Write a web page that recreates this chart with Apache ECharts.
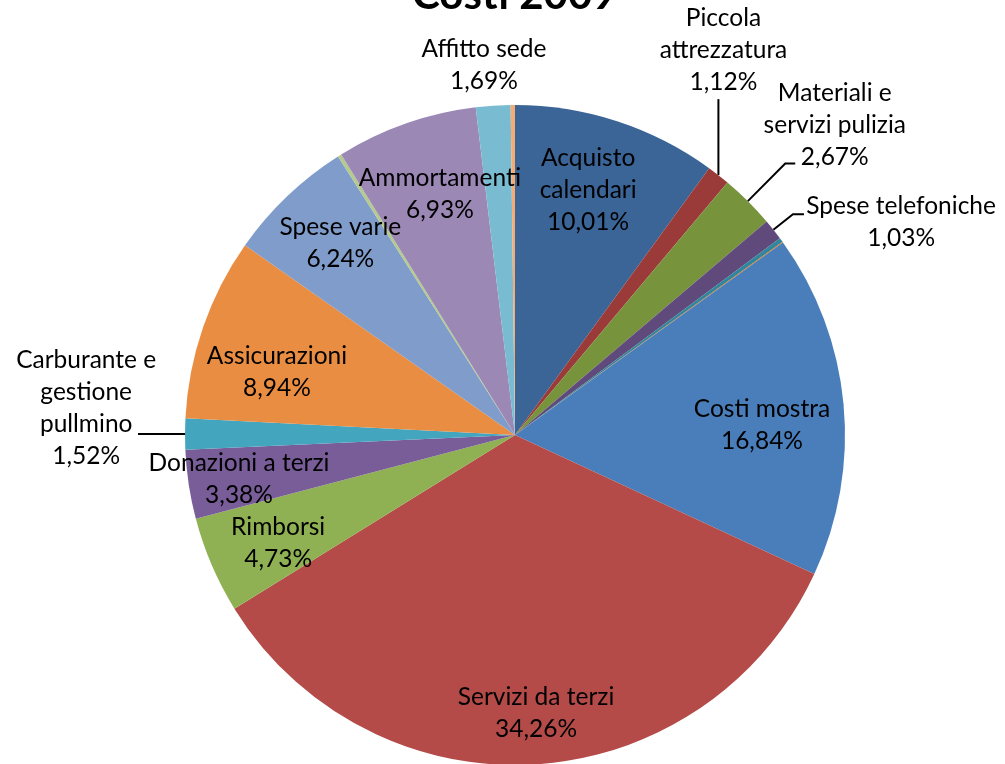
<!DOCTYPE html>
<html><head><meta charset="utf-8">
<script src="https://cdn.jsdelivr.net/npm/echarts@6/dist/echarts.min.js"></script>
<style>html,body{margin:0;padding:0;background:#fff}#chart{width:1005px;height:764px}</style>
</head><body><div id="chart"></div>
<script>
const chartTitle = 'Costi 2009';
const categories = ['Acquisto calendari','Piccola attrezzatura','Materiali e servizi pulizia','Spese telefoniche','','','Costi mostra','Servizi da terzi','Rimborsi','Donazioni a terzi','Carburante e gestione pullmino','Assicurazioni','Spese varie','','Ammortamenti','Affitto sede',''];
const values = [10.01,1.12,2.67,1.03,0.22,0.03,16.84,34.26,4.73,3.38,1.52,8.94,6.24,0.18,6.93,1.69,0.21];
const colors = ['#3B6497','#9A3B39','#77933C','#604A7B','#31859C','#E46C0A','#4A7EBB','#B44B48','#8FB153','#785D99','#44A5BF','#E98D42','#7F9CCA','#B5CB8D','#9B88B5','#79BCD2','#F5AB74'];
const wrapped = {
  'Acquisto calendari':'Acquisto\ncalendari',
  'Piccola attrezzatura':'Piccola\nattrezzatura',
  'Materiali e servizi pulizia':'Materiali e\nservizi pulizia',
  'Carburante e gestione pullmino':'Carburante e\ngestione\npullmino'
};
// label placement: k = fraction of radius, da = angle shift (deg) from slice mid-angle
const labelPlace = {
  'Acquisto calendari':{k:0.775,da:-1.4},
  'Piccola attrezzatura':{k:1.326,da:-9.6},
  'Materiali e servizi pulizia':{k:1.35,da:1.0},
  'Spese telefoniche':{k:1.336,da:9.6},
  'Costi mostra':{k:0.749,da:3.1},
  'Servizi da terzi':{k:0.845,da:-0.9},
  'Rimborsi':{k:0.789,da:-1.3},
  'Donazioni a terzi':{k:0.847,da:-0.5},
  'Carburante e gestione pullmino':{k:1.302,da:3.4},
  'Assicurazioni':{k:0.746,da:-4.2},
  'Spese varie':{k:0.787,da:1.4},
  'Ammortamenti':{k:0.765,da:2.0},
  'Affitto sede':{k:1.125,da:-1.0}
};
const outsideNames = ['Piccola attrezzatura','Materiali e servizi pulizia','Spese telefoniche','Carburante e gestione pullmino','Affitto sede'];
// leader line: radial segment len, then (dx,dy)
const leader = {
  'Piccola attrezzatura':{len:0,dx:0,dy:-76},
  'Materiali e servizi pulizia':{len:53,dx:10,dy:0},
  'Spese telefoniche':{len:25,dx:11,dy:0},
  'Carburante e gestione pullmino':{len:0,dx:-47,dy:0}
};
const CX = 515, CY = 435, R = 330;
const total = values.reduce((a,b)=>a+b,0);
const mids = []; let acc = 0;
values.forEach(v => { mids.push((acc + v/2) / total * 360); acc += v; });

const fmt = v => v.toFixed(2).replace('.', ',') + '%';
const data = categories.map((name, i) => {
  const labelled = name !== '';
  const outside = outsideNames.includes(name);
  return {
    name: name, value: values[i],
    itemStyle: {color: colors[i]},
    label: {show: labelled, position: outside ? 'outside' : 'inside'},
    labelLine: {show: !!leader[name]}
  };
});

const chart = echarts.init(document.getElementById('chart'), null, {renderer:'canvas'});
chart.setOption({
  animation: false,
  backgroundColor: '#fff',
  title: {
    text: chartTitle, left: 407, top: -32,
    textStyle: {fontFamily: 'Lato', fontWeight: 'bold', fontSize: 42, lineHeight: 44, color: '#000'}
  },
  series: [{
    type: 'pie',
    center: [CX, CY], radius: R,
    startAngle: 90, clockwise: true,
    avoidLabelOverlap: false,
    emphasis: {disabled: true},
    itemStyle: {borderWidth: 0},
    label: {
      color: '#000', fontFamily: 'Lato', fontSize: 24.5, lineHeight: 32, align: 'center',
      formatter: p => (wrapped[p.name] || p.name) + '\n' + fmt(p.value)
    },
    labelLine: {lineStyle: {color: '#000', width: 2}, smooth: false},
    labelLayout: function (params) {
      const name = categories[params.dataIndex];
      const pl = labelPlace[name];
      if (!pl) return {};
      const m = mids[params.dataIndex];
      const a = (m + pl.da) * Math.PI / 180;
      const res = {
        x: CX + pl.k * R * Math.sin(a),
        y: CY - pl.k * R * Math.cos(a),
        align: 'center', verticalAlign: 'middle'
      };
      const ld = leader[name];
      if (ld) {
        const am = m * Math.PI / 180;
        const ex = CX + R * Math.sin(am), ey = CY - R * Math.cos(am);
        const x1 = ex + ld.len * Math.sin(am), y1 = ey - ld.len * Math.cos(am);
        res.labelLinePoints = [[ex, ey], [x1, y1], [x1 + ld.dx, y1 + ld.dy]];
      }
      return res;
    },
    data: data
  }]
});
</script></body></html>
